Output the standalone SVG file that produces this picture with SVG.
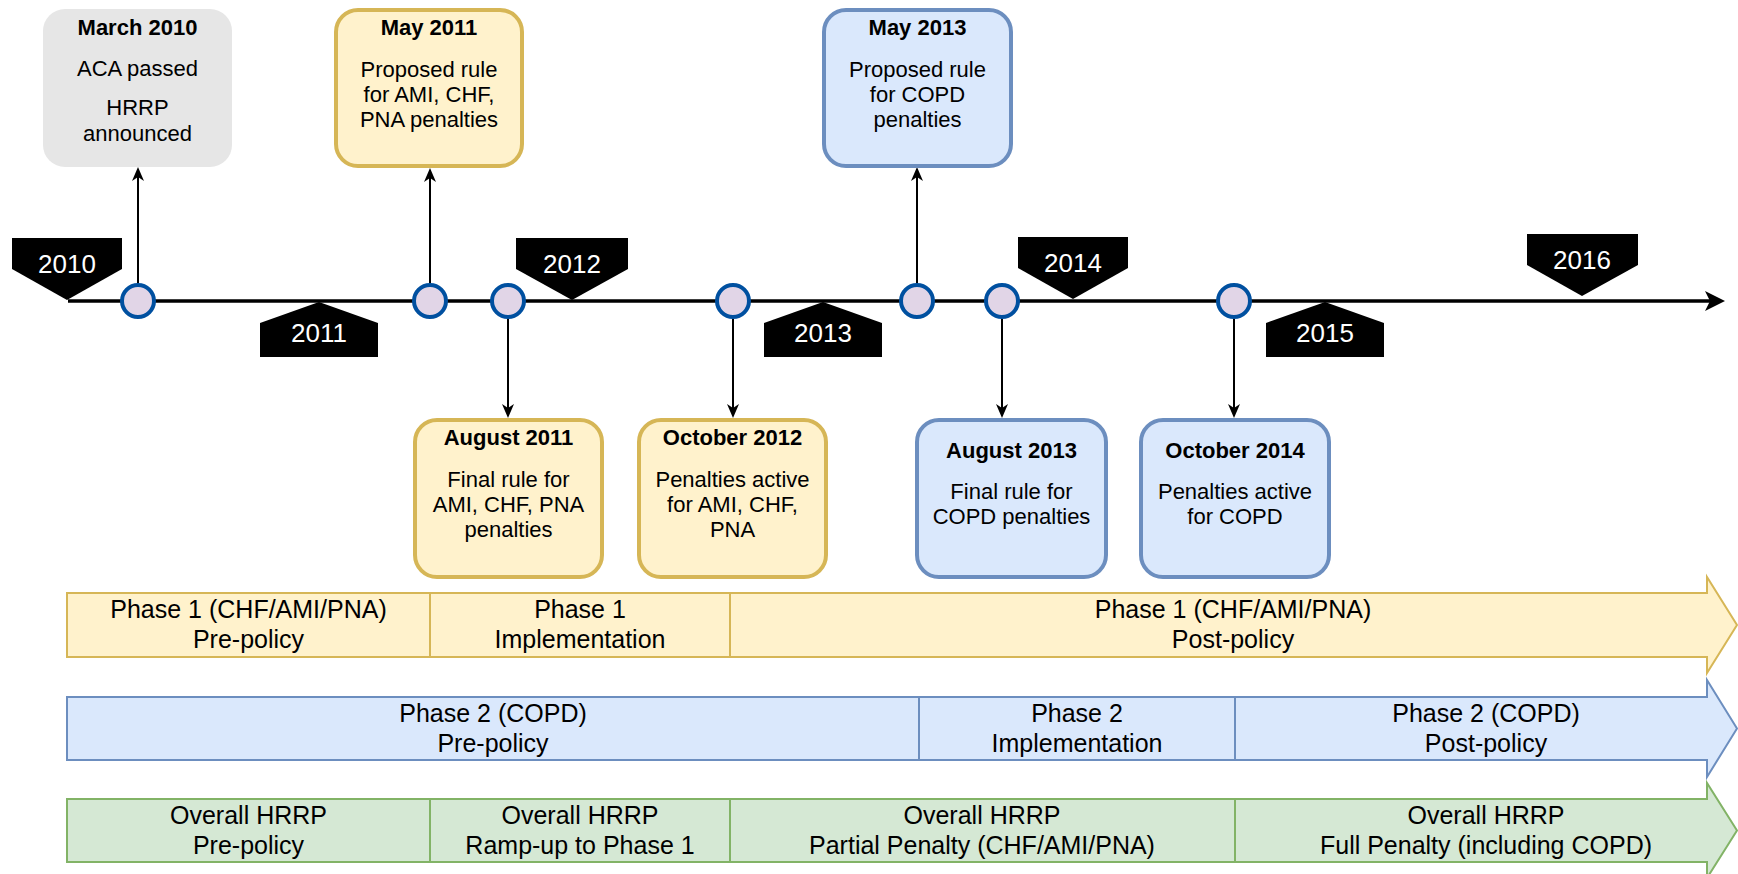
<svg xmlns="http://www.w3.org/2000/svg" width="1738" height="874" viewBox="0 0 1738 874">
<defs>
<style>
text{font-family:"Liberation Sans",Arial,sans-serif;text-anchor:middle;fill:#000}
.t{font-size:22px;font-weight:bold}
.b{font-size:22px}
.band{font-size:25px}
.yr{font-size:26px;fill:#fff}
.gray{fill:#e6e6e6}
.yel{fill:#fff2cc;stroke:#d6b656;stroke-width:4}
.blu{fill:#dae8fc;stroke:#6c8ebf;stroke-width:4}
.ybd{fill:#fff2cc;stroke:#d6b656;stroke-width:2}
.bbd{fill:#dae8fc;stroke:#6c8ebf;stroke-width:2}
.gbd{fill:#d5e8d4;stroke:#82b366;stroke-width:2}
.tag{fill:#000}
.ev{fill:#e1d5e7;stroke:#0050a0;stroke-width:4}
.con{stroke:#000;stroke-width:2;fill:none}
</style>
<marker id="arr" viewBox="0 0 14 12" refX="10" refY="6" markerWidth="14" markerHeight="12" markerUnits="userSpaceOnUse" orient="auto"><path d="M0,0 L14,6 L0,12 L4,6 Z" fill="#000"/></marker>
<marker id="big" viewBox="0 0 20 20" refX="14" refY="10" markerWidth="20" markerHeight="20" markerUnits="userSpaceOnUse" orient="auto"><path d="M0,0 L20,10 L0,20 L5,10 Z" fill="#000"/></marker>
</defs>

<g id="timeline">
<line x1="68" y1="301" x2="1719" y2="301" stroke="#000" stroke-width="3.5" marker-end="url(#big)"/>
</g>

<g id="years">
<g id="y2010"><path class="tag" d="M12,238 H122 V269 L67,300 L12,269 Z"/><text class="yr" x="67" y="273">2010</text></g>
<g id="y2011"><path class="tag" d="M319,302 L378,323 V357 H260 V323 Z"/><text class="yr" x="319" y="342">2011</text></g>
<g id="y2012"><path class="tag" d="M516,238 H628 V269 L572,300 L516,269 Z"/><text class="yr" x="572" y="273">2012</text></g>
<g id="y2013"><path class="tag" d="M823,302 L882,323 V357 H764 V323 Z"/><text class="yr" x="823" y="342">2013</text></g>
<g id="y2014"><path class="tag" d="M1018,237 H1128 V268 L1073,299 L1018,268 Z"/><text class="yr" x="1073" y="272">2014</text></g>
<g id="y2015"><path class="tag" d="M1325,302 L1384,323 V357 H1266 V323 Z"/><text class="yr" x="1325" y="342">2015</text></g>
<g id="y2016"><path class="tag" d="M1527,234 H1638 V265 L1582,296 L1527,265 Z"/><text class="yr" x="1582" y="269">2016</text></g>
</g>

<g id="connectors">
<line class="con" x1="138" y1="283" x2="138" y2="171" marker-end="url(#arr)"/>
<line class="con" x1="430" y1="283" x2="430" y2="172" marker-end="url(#arr)"/>
<line class="con" x1="917" y1="283" x2="917" y2="171" marker-end="url(#arr)"/>
<line class="con" x1="508" y1="319" x2="508" y2="414" marker-end="url(#arr)"/>
<line class="con" x1="733" y1="319" x2="733" y2="414" marker-end="url(#arr)"/>
<line class="con" x1="1002" y1="319" x2="1002" y2="414" marker-end="url(#arr)"/>
<line class="con" x1="1234" y1="319" x2="1234" y2="414" marker-end="url(#arr)"/>
</g>

<g id="events">
<circle class="ev" cx="138" cy="301" r="16"/>
<circle class="ev" cx="430" cy="301" r="16"/>
<circle class="ev" cx="508" cy="301" r="16"/>
<circle class="ev" cx="733" cy="301" r="16"/>
<circle class="ev" cx="917" cy="301" r="16"/>
<circle class="ev" cx="1002" cy="301" r="16"/>
<circle class="ev" cx="1234" cy="301" r="16"/>
</g>

<g id="march2010">
<rect class="gray" x="43" y="9" width="189" height="158" rx="22"/>
<text class="t" x="137.5" y="35">March 2010</text>
<text class="b" x="137.5" y="76">ACA passed</text>
<text class="b" x="137.5" y="115">HRRP</text>
<text class="b" x="137.5" y="141">announced</text>
</g>
<g id="may2011">
<rect class="yel" x="336" y="10" width="186" height="156" rx="22"/>
<text class="t" x="429" y="35">May 2011</text>
<text class="b" x="429" y="77">Proposed rule</text>
<text class="b" x="429" y="102">for AMI, CHF,</text>
<text class="b" x="429" y="127">PNA penalties</text>
</g>
<g id="may2013">
<rect class="blu" x="824" y="10" width="187" height="156" rx="22"/>
<text class="t" x="917.5" y="35">May 2013</text>
<text class="b" x="917.5" y="77">Proposed rule</text>
<text class="b" x="917.5" y="102">for COPD</text>
<text class="b" x="917.5" y="127">penalties</text>
</g>
<g id="aug2011">
<rect class="yel" x="415" y="420" width="187" height="157" rx="22"/>
<text class="t" x="508.5" y="445">August 2011</text>
<text class="b" x="508.5" y="487">Final rule for</text>
<text class="b" x="508.5" y="512">AMI, CHF, PNA</text>
<text class="b" x="508.5" y="537">penalties</text>
</g>
<g id="oct2012">
<rect class="yel" x="639" y="420" width="187" height="157" rx="22"/>
<text class="t" x="732.5" y="445">October 2012</text>
<text class="b" x="732.5" y="487">Penalties active</text>
<text class="b" x="732.5" y="512">for AMI, CHF,</text>
<text class="b" x="732.5" y="537">PNA</text>
</g>
<g id="aug2013">
<rect class="blu" x="917" y="420" width="189" height="157" rx="22"/>
<text class="t" x="1011.5" y="458">August 2013</text>
<text class="b" x="1011.5" y="499">Final rule for</text>
<text class="b" x="1011.5" y="524">COPD penalties</text>
</g>
<g id="oct2014">
<rect class="blu" x="1141" y="420" width="188" height="157" rx="22"/>
<text class="t" x="1235" y="458">October 2014</text>
<text class="b" x="1235" y="499">Penalties active</text>
<text class="b" x="1235" y="524">for COPD</text>
</g>

<g id="phase1">
<rect class="ybd" x="67" y="593" width="363" height="64"/>
<rect class="ybd" x="430" y="593" width="300" height="64"/>
<path class="ybd" d="M730,593 H1707 V577 L1737,625 L1707,673 V657 H730 Z"/>
<text class="band" x="248.5" y="618">Phase 1 (CHF/AMI/PNA)</text>
<text class="band" x="248.5" y="648">Pre-policy</text>
<text class="band" x="580" y="618">Phase 1</text>
<text class="band" x="580" y="648">Implementation</text>
<text class="band" x="1233" y="618">Phase 1 (CHF/AMI/PNA)</text>
<text class="band" x="1233" y="648">Post-policy</text>
</g>

<g id="phase2">
<rect class="bbd" x="67" y="697" width="852" height="63"/>
<rect class="bbd" x="919" y="697" width="316" height="63"/>
<path class="bbd" d="M1235,697 H1707 V680 L1737,728.5 L1707,777 V760 H1235 Z"/>
<text class="band" x="493" y="722">Phase 2 (COPD)</text>
<text class="band" x="493" y="752">Pre-policy</text>
<text class="band" x="1077" y="722">Phase 2</text>
<text class="band" x="1077" y="752">Implementation</text>
<text class="band" x="1486" y="722">Phase 2 (COPD)</text>
<text class="band" x="1486" y="752">Post-policy</text>
</g>

<g id="overall">
<rect class="gbd" x="67" y="799" width="363" height="63"/>
<rect class="gbd" x="430" y="799" width="300" height="63"/>
<rect class="gbd" x="730" y="799" width="505" height="63"/>
<path class="gbd" d="M1235,799 H1707 V783 L1737,830.5 L1707,878 V862 H1235 Z"/>
<text class="band" x="248.5" y="824">Overall HRRP</text>
<text class="band" x="248.5" y="854">Pre-policy</text>
<text class="band" x="580" y="824">Overall HRRP</text>
<text class="band" x="580" y="854">Ramp-up to Phase 1</text>
<text class="band" x="982" y="824">Overall HRRP</text>
<text class="band" x="982" y="854">Partial Penalty (CHF/AMI/PNA)</text>
<text class="band" x="1486" y="824">Overall HRRP</text>
<text class="band" x="1486" y="854">Full Penalty (including COPD)</text>
</g>
</svg>
